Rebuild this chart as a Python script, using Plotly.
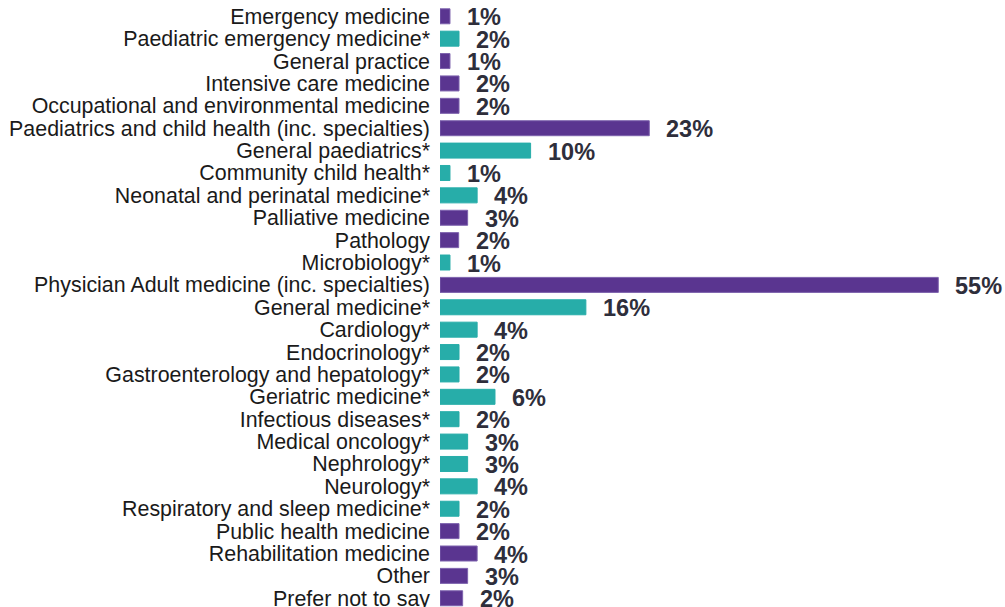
import plotly.graph_objects as go

categories = [
    "Emergency medicine",
    "Paediatric emergency medicine*",
    "General practice",
    "Intensive care medicine",
    "Occupational and environmental medicine",
    "Paediatrics and child health (inc. specialties)",
    "General paediatrics*",
    "Community child health*",
    "Neonatal and perinatal medicine*",
    "Palliative medicine",
    "Pathology",
    "Microbiology*",
    "Physician Adult medicine (inc. specialties)",
    "General medicine*",
    "Cardiology*",
    "Endocrinology*",
    "Gastroenterology and hepatology*",
    "Geriatric medicine*",
    "Infectious diseases*",
    "Medical oncology*",
    "Nephrology*",
    "Neurology*",
    "Respiratory and sleep medicine*",
    "Public health medicine",
    "Rehabilitation medicine",
    "Other",
    "Prefer not to say",
]

values = [1.1, 2.1, 1.1, 2.1, 2.1, 23.1, 10.0, 1.1, 4.1, 3.05, 2.06, 1.1,
          55.0, 16.1, 4.1, 2.1, 2.1, 6.07, 2.1, 3.05, 3.05, 4.1, 2.1,
          2.1, 4.1, 3.05, 2.5]

labels = ["1%", "2%", "1%", "2%", "2%", "23%", "10%", "1%", "4%", "3%", "2%",
          "1%", "55%", "16%", "4%", "2%", "2%", "6%", "2%", "3%", "3%", "4%",
          "2%", "2%", "4%", "3%", "2%"]

# True = sub-specialty (teal), False = main group (purple)
is_sub = [c.endswith("*") for c in categories]

PURPLE = "#5A3590"
TEAL = "#27ADA9"

colors = [TEAL if s else PURPLE for s in is_sub]
line_colors = [TEAL if s else "#7D62AD" for s in is_sub]

FONT = "Liberation Sans, Arial, sans-serif"

fig = go.Figure(go.Bar(
    x=values,
    y=categories,
    orientation="h",
    marker=dict(color=colors, line=dict(color=line_colors, width=1)),
    hoverinfo="skip",
))

for cat, v, lab in zip(categories, values, labels):
    fig.add_annotation(
        x=v, y=cat, text=lab, showarrow=False,
        xanchor="left", yanchor="middle", xshift=15, yshift=-1,
        font=dict(family=FONT, size=23.5, color="#2E2E3B", weight="bold"),
    )

fig.update_layout(
    width=1005, height=607,
    margin=dict(l=440, r=12, t=0, b=0, autoexpand=False),
    paper_bgcolor="white", plot_bgcolor="white",
    bargap=0.33,
    showlegend=False,
    font=dict(family=FONT),
)
fig.update_xaxes(range=[0, 61.04], visible=False, showgrid=False, zeroline=False)
fig.update_yaxes(
    type="category",
    categoryorder="array", categoryarray=categories,
    tickmode="array", tickvals=categories, ticktext=categories,
    range=[26.39, -0.728],
    showgrid=False, zeroline=False, showline=False,
    ticks="", ticklabelstandoff=9, automargin=False,
    tickfont=dict(family=FONT, size=21.4, color="#1A1A1A"),
)

fig.write_html(
    "out.html",
    config={"displayModeBar": False, "staticPlot": True},
    post_script="document.body.style.margin='0';document.body.style.overflow='hidden';",
)
